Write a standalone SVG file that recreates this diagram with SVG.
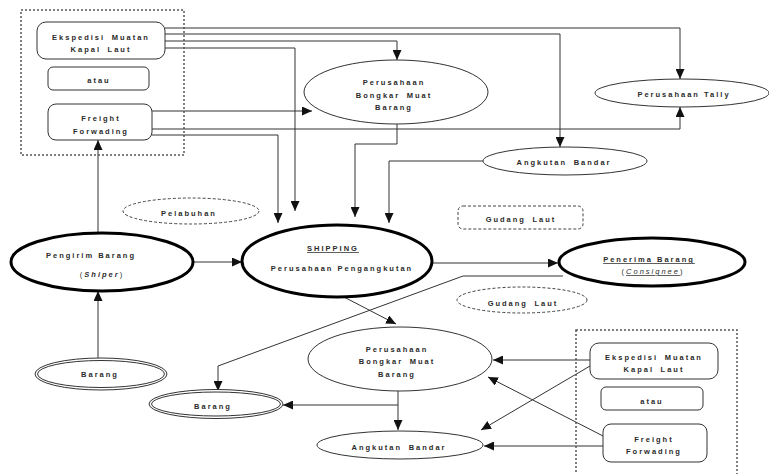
<svg xmlns="http://www.w3.org/2000/svg" width="769" height="474" viewBox="0 0 769 474">
<style>
text{font-family:"Liberation Sans",Arial,sans-serif;font-weight:bold;font-size:7.5px;letter-spacing:2px;fill:#2a2a2a;text-anchor:middle}
.ws{word-spacing:2.5px}
.box{fill:none;stroke:#333;stroke-width:1}
.thin{fill:#fff;stroke:#333;stroke-width:1}
.thick{fill:#fff;stroke:#000;stroke-width:3}
.dash{fill:none;stroke:#444;stroke-width:1;stroke-dasharray:3,2}
.dot{fill:none;stroke:#555;stroke-width:1.5;stroke-dasharray:2,2}
.dbl{fill:#fff;stroke:#333;stroke-width:1}
.c{fill:none;stroke:#333;stroke-width:1}
.ca{fill:none;stroke:#333;stroke-width:1;marker-end:url(#ah)}
.u{text-decoration:underline}
</style>
<defs>
<marker id="ah" markerUnits="userSpaceOnUse" markerWidth="10" markerHeight="9" refX="10" refY="4.5" orient="auto" viewBox="0 0 10 9">
<path d="M0,0 L10,4.5 L0,9 z" fill="#111"/>
</marker>
</defs>
<rect width="769" height="474" fill="#fff"/>

<g id="connectors">
<path class="ca" d="M165,28 H680 V79"/>
<path class="ca" d="M165,34 H560 V147"/>
<path class="ca" d="M165,41 H397 V60"/>
<path class="ca" d="M165,48 H295 V211"/>
<path class="ca" d="M152,111 H312"/>
<path class="ca" d="M152,129 H680 V107"/>
<path class="ca" d="M152,135 H278 V223"/>
<path class="ca" d="M397,124 V144 H355 V217"/>
<path class="ca" d="M483,161 H389 V223"/>
<path class="ca" d="M98,233 V140"/>
<path class="ca" d="M193,262 H242"/>
<path class="ca" d="M98,358 V291"/>
<path class="ca" d="M432,263 H558"/>
<path class="ca" d="M563,276 H463 L218,366 V391"/>
<path class="ca" d="M342,296 L396,324"/>
<path class="ca" d="M398,391 V430"/>
<path class="ca" d="M398,405 H283"/>
<path class="ca" d="M590,360 H493"/>
<path class="ca" d="M590,366 L481,430"/>
<path class="ca" d="M603,436 L488,377"/>
<path class="ca" d="M603,446 H484"/>
</g>

<g id="group-top">
<rect class="dot" x="21" y="10" width="163" height="145"/>
</g>
<g id="ekspedisi-top">
<rect class="thin" x="37" y="22" width="128" height="37" rx="9"/>
<text class="ws" x="101" y="40">Ekspedisi Muatan</text>
<text class="ws" x="101" y="52">Kapal Laut</text>
</g>
<g id="atau-top">
<rect class="thin" x="48" y="67" width="101" height="23" rx="5"/>
<text x="99" y="83">atau</text>
</g>
<g id="freight-top">
<rect class="thin" x="48" y="104" width="104" height="36" rx="8"/>
<text x="101" y="121">Freight</text>
<text x="101" y="134">Forwading</text>
</g>

<g id="bongkar-top">
<ellipse class="thin" cx="396" cy="92" rx="92" ry="32"/>
<text x="394" y="85">Perusahaan</text>
<text class="ws" x="394" y="98">Bongkar Muat</text>
<text x="394" y="110">Barang</text>
</g>
<g id="tally">
<ellipse class="thin" cx="682" cy="93" rx="87" ry="14"/>
<text x="684" y="97">Perusahaan Tally</text>
</g>
<g id="angkutan-top">
<ellipse class="thin" cx="565" cy="161" rx="82" ry="14"/>
<text class="ws" x="564" y="165">Angkutan Bandar</text>
</g>

<g id="pelabuhan">
<ellipse class="dash" cx="191" cy="211" rx="68" ry="13"/>
<text x="189" y="216">Pelabuhan</text>
</g>
<g id="gudang-top">
<rect class="dash" x="458" y="206" width="125" height="23" rx="5"/>
<text class="ws" x="521" y="222">Gudang Laut</text>
</g>

<g id="pengirim">
<ellipse class="thick" cx="102" cy="262" rx="91" ry="29"/>
<text x="91" y="258">Pengirim Barang</text>
<text x="102" y="277"><tspan style="font-weight:normal">(</tspan><tspan style="font-style:italic">Shiper</tspan><tspan style="font-weight:normal">)</tspan></text>
</g>

<g id="shipping">
<ellipse class="thick" cx="337" cy="261" rx="95" ry="36"/>
<text x="333" y="251" class="u">SHIPPING</text>
<text x="342" y="271">Perusahaan Pengangkutan</text>
</g>

<g id="penerima">
<ellipse class="thick" cx="652" cy="262" rx="93" ry="24"/>
<text x="649" y="262" class="u">Penerima Barang</text>
<text x="653" y="274"><tspan style="font-weight:normal">(</tspan><tspan class="u" style="font-style:italic;font-weight:normal">Consignee</tspan><tspan style="font-weight:normal">)</tspan></text>
</g>

<g id="gudang-bottom">
<ellipse class="dash" cx="522" cy="300" rx="65" ry="13"/>
<text class="ws" x="523" y="306">Gudang Laut</text>
</g>

<g id="barang-left">
<ellipse class="dbl" cx="101" cy="374" rx="66" ry="16"/>
<ellipse class="c" cx="101" cy="374" rx="63.5" ry="13.5"/>
<text x="100" y="377">Barang</text>
</g>

<g id="bongkar-bottom">
<ellipse class="thin" cx="400" cy="359" rx="92" ry="32"/>
<text x="397" y="352">Perusahaan</text>
<text class="ws" x="397" y="364">Bongkar Muat</text>
<text x="397" y="377">Barang</text>
</g>

<g id="barang-middle">
<ellipse class="dbl" cx="216" cy="404" rx="67" ry="14.5"/>
<ellipse class="c" cx="216" cy="404" rx="64.5" ry="12"/>
<text x="213" y="409">Barang</text>
</g>

<g id="angkutan-bottom">
<ellipse class="thin" cx="400" cy="445" rx="83" ry="14"/>
<text class="ws" x="399" y="450">Angkutan Bandar</text>
</g>

<g id="group-bottom">
<rect class="dot" x="576" y="330" width="161" height="150"/>
</g>
<g id="ekspedisi-bottom">
<rect class="thin" x="590" y="343" width="128" height="36" rx="9"/>
<text class="ws" x="654" y="360">Ekspedisi Muatan</text>
<text class="ws" x="654" y="372">Kapal Laut</text>
</g>
<g id="atau-bottom">
<rect class="thin" x="601" y="387" width="102" height="23" rx="5"/>
<text x="652" y="404">atau</text>
</g>
<g id="freight-bottom">
<rect class="thin" x="603" y="424" width="104" height="38" rx="8"/>
<text x="654" y="442">Freight</text>
<text x="654" y="454">Forwading</text>
</g>
</svg>
